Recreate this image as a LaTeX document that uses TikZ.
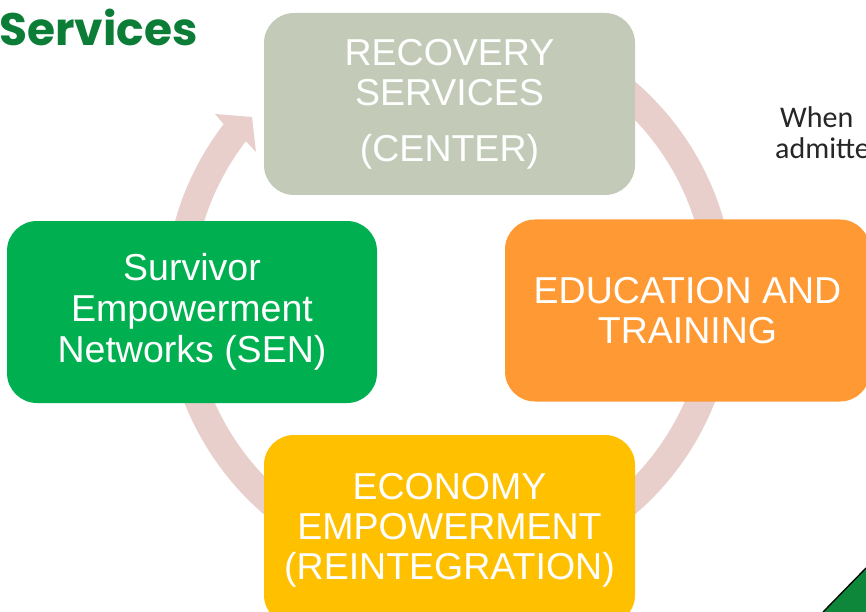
\documentclass[tikz,border=0pt]{standalone}
\usepackage{fontspec}
\setmainfont{Liberation Sans}
\newfontfamily\titlefont{Poppins}
\newfontfamily\notefont{Carlito}
\usetikzlibrary{calc}
\definecolor{ringcol}{RGB}{232,207,203}
\definecolor{topcol}{RGB}{195,203,184}
\definecolor{leftcol}{RGB}{0,176,80}
\definecolor{rightcol}{RGB}{255,153,51}
\definecolor{botcol}{RGB}{255,192,0}
\definecolor{titlegreen}{RGB}{11,125,55}
\definecolor{cornergreen}{RGB}{14,135,58}
\definecolor{notegray}{RGB}{38,38,38}
\begin{document}
\begin{tikzpicture}[x=1pt,y=-1pt,
  box/.style={rounded corners=30pt, inner sep=0pt, text=white, align=center,
    font=\fontsize{37.5}{40}\selectfont},
  note/.style={anchor=base west, inner sep=0pt, text=notegray,
    font=\notefont\fontsize{30}{30}\selectfont}]
\useasboundingbox (0,0) rectangle (866,612);
\fill[white] (0,0) rectangle (866,612);
% circular arrow
\coordinate (c) at (449.5,298);
\coordinate (barbout) at (215,114);
\coordinate (tip) at (252,117);
\coordinate (barbin) at (256,152);
\fill[ringcol] ($(c)+(-80:285)$) arc[start angle=-80,end angle=217.6,radius=285]
  -- (barbout) -- (tip) -- (barbin) -- ($(c)+(217.6:257)$)
  arc[start angle=217.6,end angle=-80,radius=257] -- cycle;
% boxes
\node[box, fill=topcol, minimum width=371pt, minimum height=182pt] (rec) at (449.5,104)
  {RECOVERY\\SERVICES\\[16pt](CENTER)};
\node[box, fill=leftcol, minimum width=370pt, minimum height=182pt, font=\fontsize{37.5}{41}\selectfont] (sen) at (192,312)
  {Survivor\\Empowerment\\Networks (SEN)};
\node[box, fill=rightcol, minimum width=365pt, minimum height=182pt] (edu) at (687.5,310.5)
  {EDUCATION AND\\TRAINING};
\node[box, fill=botcol, minimum width=371pt, minimum height=190pt] (eco) at (449.5,530)
  {ECONOMY\\EMPOWERMENT\\(REINTEGRATION)};
% title
\node[anchor=base west, inner sep=0pt, text=titlegreen,
  font=\titlefont\bfseries\fontsize{45.5}{45.5}\selectfont] (title) at (-1,46) {Services};
% side note
\node[note] (when) at (780,128) {When};
\node[note] (adm) at (775,159) {admitte};
% corner triangle
\coordinate (t1) at (823,612);
\coordinate (t2) at (866,568);
\coordinate (t3) at (866,612);
\fill[cornergreen] (t1) -- (t2) -- (t3) -- cycle;
\draw[black, line width=1.3pt] (t1) -- (t2);
\end{tikzpicture}
\end{document}
